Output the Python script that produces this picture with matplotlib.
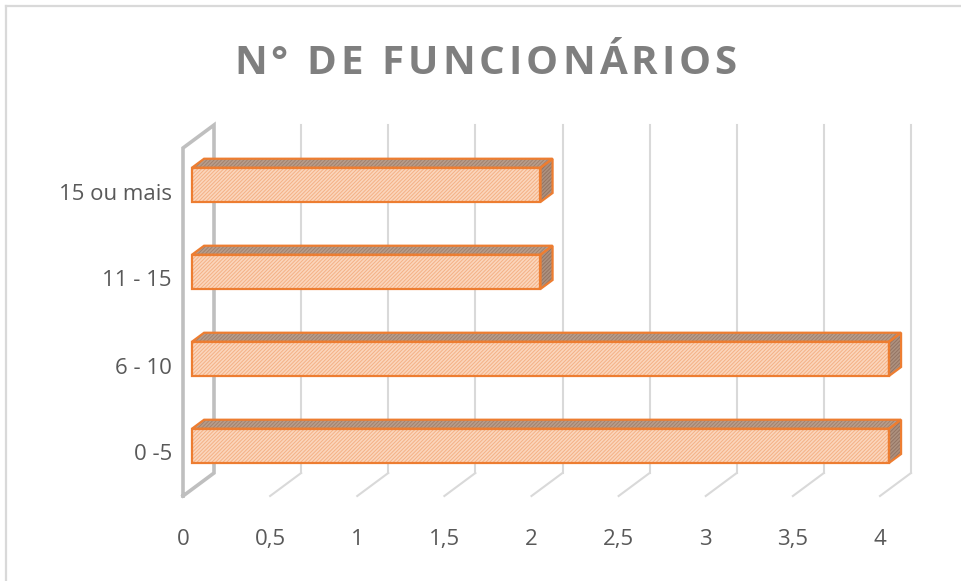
import numpy as np
import matplotlib
matplotlib.use('Agg')
import matplotlib.pyplot as plt
from matplotlib.patches import Polygon

categories = ['0 -5', '6 - 10', '11 - 15', '15 ou mais']
values = [4, 4, 2, 2]
xticks = [0, 0.5, 1, 1.5, 2, 2.5, 3, 3.5, 4]
xticklabels = ['0', '0,5', '1', '1,5', '2', '2,5', '3', '3,5', '4']
title = 'N° DE FUNCIONÁRIOS'

plt.rcParams['font.family'] = ['Open Sans', 'DejaVu Sans']
plt.rcParams['hatch.linewidth'] = 0.7

W, H, DPI = 961, 581, 100
fig = plt.figure(figsize=(W / DPI, H / DPI), dpi=DPI)

# light frame (only top / left visible)
fig.add_artist(plt.Line2D([6 / W, 1], [1 - 6 / H, 1 - 6 / H], color='#d9d9d9', lw=1.6))
fig.add_artist(plt.Line2D([6 / W, 6 / W], [0, 1 - 6 / H], color='#d9d9d9', lw=1.6))

pos = [183 / W, 1 - 496 / H, 697 / W, 348 / H]
ax = fig.add_axes(pos)
xmin, xmax = 0, 4
ymin, ymax = -0.5, 3.5
ax.set_xlim(xmin, xmax)
ax.set_ylim(ymin, ymax)

# depth projection: one unit of depth = 31 px right, 23 px up
DX = 31 / (pos[2] * W / (xmax - xmin))
DY = 23 / (pos[3] * H / (ymax - ymin))


def proj(v, c, d):
    return (v + DX * d, c + DY * d)


grid_c = '#d9d9d9'
wall_c = '#bfbfbf'

# back wall gridlines and floor lines
for v in xticks[1:]:
    p1, p2 = proj(v, ymin, 1), proj(v, ymax, 1)
    ax.plot([p1[0], p2[0]], [p1[1], p2[1]], color=grid_c, lw=1.5, clip_on=False, zorder=1)
    f1, f2 = proj(v, ymin, 0), proj(v, ymin, 1)
    ax.plot([f1[0], f2[0]], [f1[1], f2[1]], color=grid_c, lw=1.5, clip_on=False, zorder=1)

# left side wall
wall = [proj(0, ymin, 0), proj(0, ymax, 0), proj(0, ymax, 1), proj(0, ymin, 1), proj(0, ymin, 0)]
ax.plot([p[0] for p in wall], [p[1] for p in wall], color=wall_c, lw=2.6,
        clip_on=False, zorder=2, solid_joinstyle='miter')

d0, d1 = 0.29, 0.68
h = 0.197
front_fc, front_hc = '#fbd6bd', '#f4b185'
top_fc, top_hc = '#b89d8b', '#a0816e'
side_fc, side_hc = '#ad917f', '#937463'
edge = '#ed7d31'
hatch = '/' * 9

for i, v in enumerate(values):
    front = [proj(0, i - h, d0), proj(v, i - h, d0), proj(v, i + h, d0), proj(0, i + h, d0)]
    top = [proj(0, i + h, d0), proj(v, i + h, d0), proj(v, i + h, d1), proj(0, i + h, d1)]
    side = [proj(v, i - h, d0), proj(v, i - h, d1), proj(v, i + h, d1), proj(v, i + h, d0)]
    for poly, fc, hc in [(top, top_fc, top_hc), (side, side_fc, side_hc), (front, front_fc, front_hc)]:
        ax.add_patch(Polygon(poly, closed=True, facecolor=fc, edgecolor=hc, hatch=hatch,
                             lw=0, clip_on=False, zorder=3))
        ax.add_patch(Polygon(poly, closed=True, fill=False, edgecolor=edge, lw=1.6,
                             joinstyle='miter', clip_on=False, zorder=4))

for s in ax.spines.values():
    s.set_visible(False)
ax.set_xticks(xticks)
ax.set_xticklabels(xticklabels)
ax.set_yticks(range(len(categories)))
ax.set_yticklabels(categories)
ax.tick_params(length=0, colors='#595959', labelsize=16)
ax.tick_params(axis='x', pad=24)
ax.tick_params(axis='y', pad=8)
ax.patch.set_visible(False)

# title with letter spacing
renderer = fig.canvas.get_renderer()
tkw = dict(fontsize=29, fontweight='bold', color='#7f7f7f')
spacing = 4.0
x0, base = 234, 1 - 74 / H


def width(s):
    t = fig.text(0, 0, s, **tkw)
    w = t.get_window_extent(renderer).width
    t.remove()
    return w


for k, ch in enumerate(title):
    if ch == ' ':
        continue
    left = width(title[:k + 1]) - width(ch) + k * spacing
    fig.text((x0 + left) / W, base, ch, va='baseline', ha='left', **tkw)

fig.savefig('out.png', dpi=DPI)
